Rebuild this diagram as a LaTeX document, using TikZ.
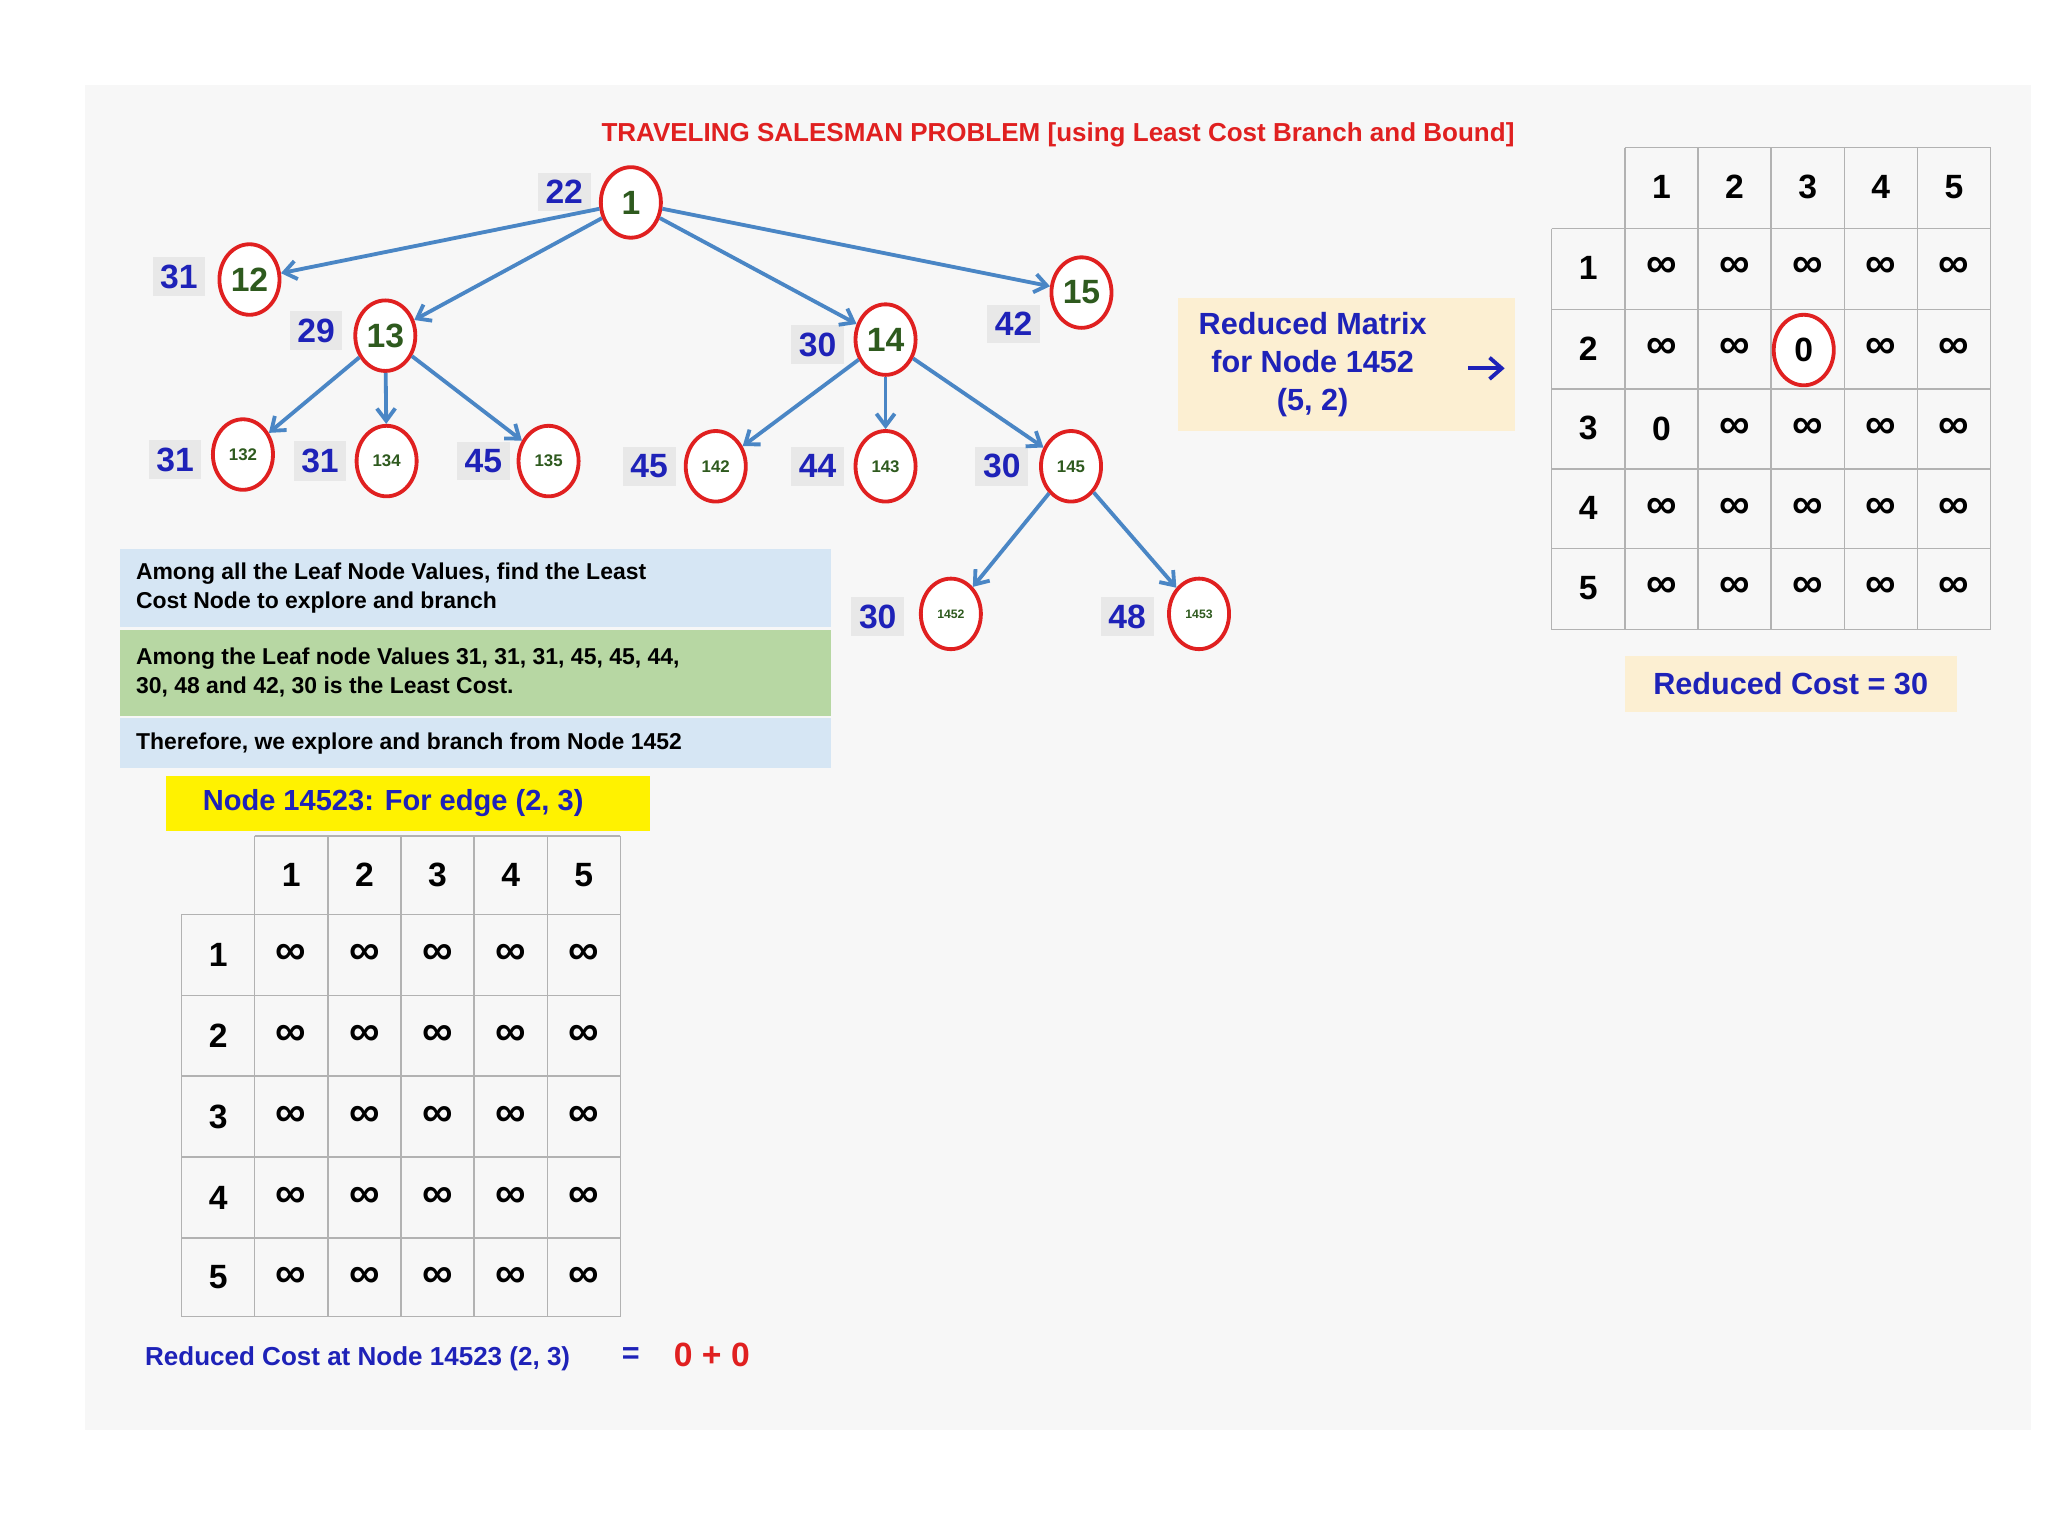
\documentclass[tikz,border=0pt]{standalone}
\usepackage{fontspec}
\setmainfont{Liberation Sans}
\usetikzlibrary{arrows.meta,shapes.geometric}
\definecolor{tblue}{HTML}{1E22B8}
\definecolor{tred}{HTML}{E02020}
\definecolor{tgreen}{HTML}{2E5A1E}
\definecolor{eblue}{HTML}{4A86C5}
\definecolor{bxblue}{HTML}{D6E6F4}
\definecolor{bxgreen}{HTML}{B7D7A3}
\definecolor{bxtan}{HTML}{FCEFD2}
\newcommand{\fs}[1]{\fontsize{#1}{\dimexpr #1pt*5/4\relax}\selectfont\bfseries}
\tikzset{
 tnode/.style={draw=tred,line width=2.5pt,fill=white,ellipse,minimum width=46*0.03cm,minimum height=54*0.03cm,inner sep=0pt,text=tgreen,font=\fs{22}},
 snode/.style={tnode,font=\fs{11}},
 xsnode/.style={tnode,font=\fs{8}},
 lab/.style={fill=black!9,text=tblue,font=\fs{22},inner sep=5pt},
 edge/.style={draw=eblue,line width=2.5pt,-{Straight Barb[length=8pt,width=12pt]}},
 cell/.style={font=\fs{22}},
 inf/.style={font=\fs{28}},
 grid/.style={black!30,line width=1pt},
}
\begin{document}
\begin{tikzpicture}[x=0.03cm,y=-0.03cm]
\useasboundingbox (0,0) rectangle (1568,1176);
\fill[white] (0,0) rectangle (1568,1176);
\fill[black!3] (65,65) rectangle (1555,1095);
\node[text=tred,font=\fs{17}] (title) at (810,103) {TRAVELING SALESMAN PROBLEM [using Least Cost Branch and Bound]};
% tree
\node[tnode] (n1) at (483,155) {1};
\node[tnode] (n12) at (191,214) {12};
\node[tnode] (n13) at (295,257) {13};
\node[tnode] (n14) at (678,260) {14};
\node[tnode] (n15) at (828,224) {15};
\node[snode] (n132) at (186,348) {132};
\node[snode] (n134) at (296,353) {134};
\node[snode] (n135) at (420,353) {135};
\node[snode] (n142) at (548,357) {142};
\node[snode] (n143) at (678,357) {143};
\node[snode] (n145) at (820,357) {145};
\node[xsnode] (n1452) at (728,470) {1452};
\node[xsnode] (n1453) at (918,470) {1453};
\node[lab] (l1) at (432,147) {22};
\node[lab] (l12) at (137,212) {31};
\node[lab] (l13) at (242,253) {29};
\node[lab] (l14) at (626,264) {30};
\node[lab] (l15) at (776,248) {42};
\node[lab] (l132) at (134,352) {31};
\node[lab] (l134) at (245,353) {31};
\node[lab] (l135) at (370,353) {45};
\node[lab] (l142) at (497,357) {45};
\node[lab] (l143) at (626,357) {44};
\node[lab] (l145) at (767,357) {30};
\node[lab] (l1452) at (672,472) {30};
\node[lab] (l1453) at (863,472) {48};
\foreach \a/\b in {n1/n12,n1/n13,n1/n14,n1/n15,n13/n132,n13/n134,n13/n135,n14/n142,n14/n143,n14/n145,n145/n1452,n145/n1453}
  \draw[edge] (\a) -- (\b);
% text boxes
\fill[bxblue] (92,420) rectangle (636,480);
\fill[bxgreen] (92,482) rectangle (636,548);
\fill[bxblue] (92,550) rectangle (636,588);
\node[anchor=west,font=\fs{15},align=left] (t1) at (100,450) {Among all the Leaf Node Values, find the Least\\Cost Node to explore and branch};
\node[anchor=west,font=\fs{15},align=left] (t2) at (100,515) {Among the Leaf node Values 31, 31, 31, 45, 45, 44,\\30, 48 and 42, 30 is the Least Cost.};
\node[anchor=west,font=\fs{15}] (t3) at (100,569) {Therefore, we explore and branch from Node 1452};
\fill[yellow] (127,594) rectangle (498,636);
\node[text=tblue,font=\fs{19}] (yl) at (301,615) {Node 14523: For edge (2, 3)};
% lower matrix
\draw[grid] (195,640) -- (475,640) (139,700) -- (475,700) (139,1008) -- (475,1008) (139,700) -- (139,1008) (195,640) -- (195,1008);
\foreach \y in {762,824,886,948} \draw[grid] (139,\y) -- (475,\y);
\foreach \x in {251,307,363,419,475} \draw[grid] (\x,640) -- (\x,1008);
\foreach \i/\x in {1/223,2/279,3/335,4/391,5/447} \node[cell] (lh\i) at (\x,670) {\i};
\foreach \i/\y in {1/731,2/793,3/855,4/917,5/978} {
  \node[cell] (lr\i) at (167,\y) {\i};
  \foreach \x in {223,279,335,391,447} \node[inf] at (\x,\y) {∞};
}
\node[text=tblue,font=\fs{17},anchor=west] (rc) at (107,1040) {Reduced Cost at Node 14523 (2, 3)};
\node[text=tblue,font=\fs{20}] (eq) at (483,1038) {=};
\node[text=tred,font=\fs{22}] (z) at (545,1037) {0 + 0};
% upper matrix
\draw[grid] (1244,113) -- (1524,113) (1188,175) -- (1524,175) (1188,482) -- (1524,482) (1188,175) -- (1188,482) (1244,113) -- (1244,482);
\foreach \y in {237,298,359,420} \draw[grid] (1188,\y) -- (1524,\y);
\foreach \x in {1300,1356,1412,1468,1524} \draw[grid] (\x,113) -- (\x,482);
\foreach \i/\x in {1/1272,2/1328,3/1384,4/1440,5/1496} \node[cell] (uh\i) at (\x,143) {\i};
\foreach \i/\y in {1/205,2/267,3/328,4/389,5/450} {
  \node[cell] (ur\i) at (1216,\y) {\i};
  \foreach \x/\j in {1272/1,1328/2,1384/3,1440/4,1496/5} {
    \ifnum\i\j=23 \else\ifnum\i\j=31 \else \node[inf] at (\x,\y) {∞};\fi\fi
  }
}
\node[tnode,text=black] (z23) at (1381,268) {0};
\node[cell] (z31) at (1272,328) {0};
% reduced matrix box
\fill[bxtan] (902,228) rectangle (1160,330);
\node[text=tblue,font=\fs{20},align=center] (rm) at (1005,279) {Reduced Matrix\\for Node 1452\\(5, 2)};
\coordinate (a0) at (1124,282);
\coordinate (a1) at (1152,282);
\draw[tblue,line width=2.5pt,-{Straight Barb[length=8pt,width=14pt]}] (a0) -- (a1);
\fill[bxtan] (1244,502) rectangle (1498,545);
\node[text=tblue,font=\fs{20}] (rc30) at (1371,523) {Reduced Cost = 30};
\end{tikzpicture}
\end{document}
